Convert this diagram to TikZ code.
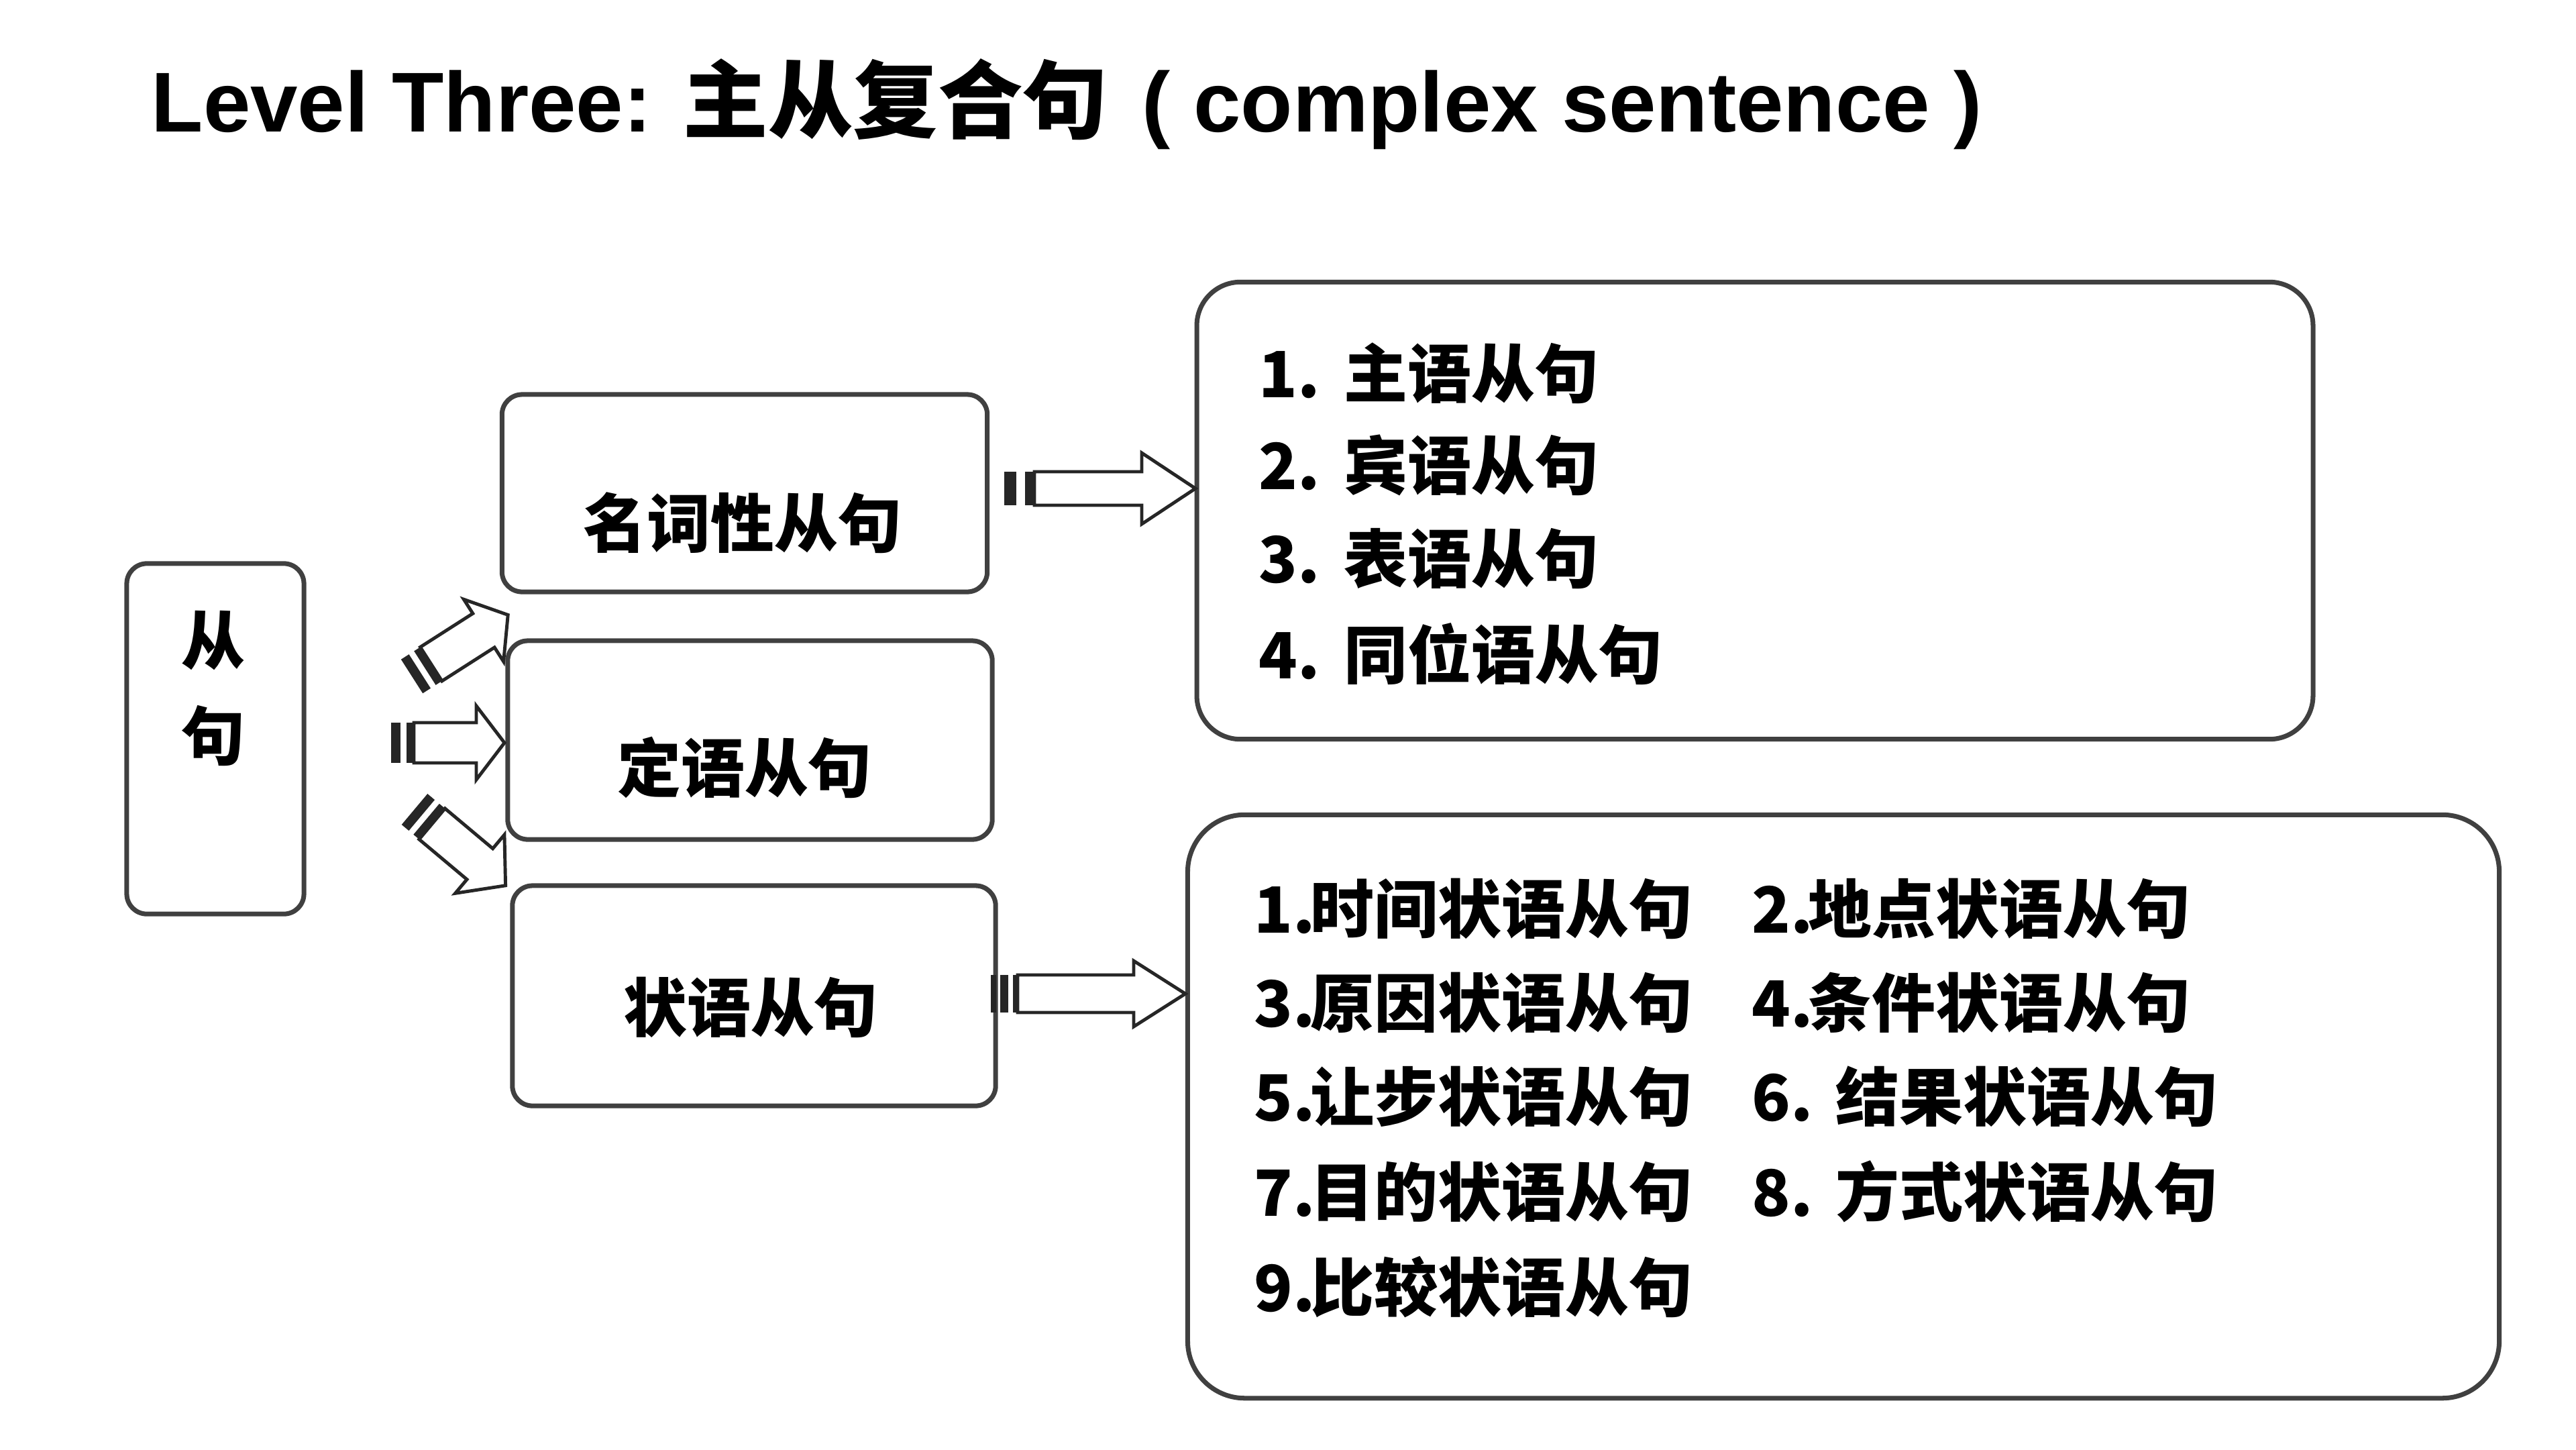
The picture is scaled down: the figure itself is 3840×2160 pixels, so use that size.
\documentclass[tikz,border=0pt]{standalone}
\usepackage{fontspec}
\setmainfont{Liberation Sans}
\newfontfamily\cjk{Noto Sans CJK SC}
\tikzset{
  smallbox/.style={draw=black!75, line width=2pt, rounded corners=0.3cm, fill=white, inner sep=0pt},
  bigbox/.style={draw=black!75, line width=2pt, fill=white, inner sep=0pt},
  arrowbody/.style={draw=black!85, line width=1.4pt, fill=white, line join=miter},
  stripe/.style={fill=black!85},
  lbl/.style={font=\cjk\bfseries\fontsize{27pt}{32pt}\selectfont, inner sep=0pt},
  titlefont/.style={font=\bfseries\fontsize{36pt}{40pt}\selectfont, inner sep=0pt}
}
\begin{document}
\begin{tikzpicture}[x=0.01cm,y=-0.01cm]
\useasboundingbox (0,0) rectangle (3840,2160);
\fill[white] (0,0) rectangle (3840,2160);

% title
\node[titlefont, anchor=base west] (title) at (225,196)
  {Level Three: {\cjk\bfseries 主从复合句}\hspace{0.4em}( complex sentence )};

% boxes
\node[smallbox, minimum width=2.64cm, minimum height=5.22cm] (A) at (321,1101) {};
\node[smallbox, minimum width=7.23cm, minimum height=2.94cm] (B) at (1110,735) {};
\node[smallbox, minimum width=7.22cm, minimum height=2.96cm] (C) at (1118,1103) {};
\node[smallbox, minimum width=7.20cm, minimum height=3.28cm] (D) at (1124,1484) {};
\node[bigbox, rounded corners=0.65cm, minimum width=16.63cm, minimum height=6.81cm] (E) at (2616,761) {};
\node[bigbox, rounded corners=0.85cm, minimum width=19.54cm, minimum height=8.69cm] (F) at (2748,1649) {};

% box texts
\node[lbl] (a1) at (318,955) {从};
\node[lbl] (a2) at (318,1097) {句};
\node[lbl] (btext) at (1107,779) {名词性从句};
\node[lbl] (ctext) at (1110,1144) {定语从句};
\node[lbl] (dtext) at (1119,1501) {状语从句};

% list in E
\node[lbl, anchor=west] (e1) at (1876,556) {\makebox[1.27cm][l]{1.}主语从句};
\node[lbl, anchor=west] (e2) at (1876,693) {\makebox[1.27cm][l]{2.}宾语从句};
\node[lbl, anchor=west] (e3) at (1876,833) {\makebox[1.27cm][l]{3.}表语从句};
\node[lbl, anchor=west] (e4) at (1876,975) {\makebox[1.27cm][l]{4.}同位语从句};

% list in F
\node[lbl, anchor=west] (f1) at (1869,1354) {1.\hspace{-0.08em}时间状语从句};
\node[lbl, anchor=west] (f2) at (2611,1354) {2.\hspace{-0.08em}地点状语从句};
\node[lbl, anchor=west] (f3) at (1869,1494) {3.\hspace{-0.08em}原因状语从句};
\node[lbl, anchor=west] (f4) at (2611,1494) {4.\hspace{-0.08em}条件状语从句};
\node[lbl, anchor=west] (f5) at (1869,1634) {5.\hspace{-0.08em}让步状语从句};
\node[lbl, anchor=west] (f6) at (2611,1634) {\makebox[1.25cm][l]{6.}结果状语从句};
\node[lbl, anchor=west] (f7) at (1869,1776) {7.\hspace{-0.08em}目的状语从句};
\node[lbl, anchor=west] (f8) at (2611,1776) {\makebox[1.25cm][l]{8.}方式状语从句};
\node[lbl, anchor=west] (f9) at (1869,1918) {9.\hspace{-0.08em}比较状语从句};

% block arrow B -> E
\fill[stripe] (1497,703) rectangle (1515,753);
\fill[stripe] (1528,703) rectangle (1542,753);
\draw[arrowbody] (1542,703) -- (1702,703) -- (1702,675) -- (1782,728)
  -- (1702,781) -- (1702,753) -- (1542,753) -- cycle;

% block arrow D -> F
\fill[stripe] (1477,1453) rectangle (1485,1509);
\fill[stripe] (1491,1453) rectangle (1503,1509);
\fill[stripe] (1510,1453) rectangle (1517,1509);
\draw[arrowbody] (1517,1453) -- (1690,1453) -- (1690,1432) -- (1767,1481)
  -- (1690,1530) -- (1690,1509) -- (1517,1509) -- cycle;

% block arrow A -> C
\fill[stripe] (583,1077) rectangle (597,1137);
\fill[stripe] (606,1077) rectangle (617,1137);
\draw[arrowbody] (617,1077) -- (710,1077) -- (710,1052) -- (752,1107)
  -- (710,1162) -- (710,1137) -- (617,1137) -- cycle;

% block arrow A -> B (rotated up)
\begin{scope}[shift={(614,1008)}, rotate=32.6]
  \fill[stripe] (0,-30) rectangle (14,30);
  \fill[stripe] (23,-30) rectangle (34,30);
  \draw[arrowbody] (34,-30) -- (127,-30) -- (127,-55) -- (170,0)
    -- (127,55) -- (127,30) -- (34,30) -- cycle;
\end{scope}

% block arrow A -> D (rotated down)
\begin{scope}[shift={(618,1206)}, rotate=-40]
  \fill[stripe] (0,-30) rectangle (14,30);
  \fill[stripe] (23,-30) rectangle (34,30);
  \draw[arrowbody] (34,-30) -- (127,-30) -- (127,-57) -- (177,0)
    -- (127,57) -- (127,30) -- (34,30) -- cycle;
\end{scope}
\end{tikzpicture}
\end{document}
